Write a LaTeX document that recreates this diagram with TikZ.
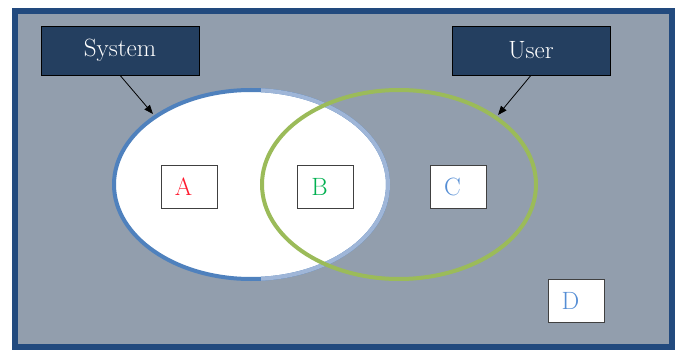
\documentclass[tikz,border=0pt]{standalone}
\usetikzlibrary{shapes.geometric,arrows.meta}
\definecolor{framecol}{HTML}{224A7E}
\definecolor{bgcol}{HTML}{929EAD}
\definecolor{navy}{HTML}{243F60}
\definecolor{sysblue}{HTML}{4F81BD}
\definecolor{syslight}{HTML}{9FB6D8}
\definecolor{usrgreen}{HTML}{9BBB59}
\definecolor{tred}{HTML}{FF1A2E}
\definecolor{tgreen}{HTML}{00B050}
\definecolor{tblue}{HTML}{558ED5}
\tikzset{
  title/.style={draw=black, line width=0.6pt, fill=navy, text=white, minimum width=158pt, minimum height=49pt, inner sep=0pt, font=\fontsize{25}{28}\selectfont},
  setell/.style={ellipse, line width=4pt, minimum width=274pt, minimum height=189pt, inner sep=0pt},
  lbox/.style={draw=black!75, line width=0.6pt, fill=white, minimum width=56pt, minimum height=43pt, inner sep=0pt, font=\fontsize{25}{28}\selectfont},
  pointer/.style={-{Triangle[length=9pt,width=7pt]}, line width=0.8pt, black}
}
\begin{document}
\begin{tikzpicture}[x=1pt,y=-1pt]
\useasboundingbox[fill=white] (0,0) rectangle (680,350);
\node[draw=framecol, fill=bgcol, line width=6pt, minimum width=657pt, minimum height=336pt, inner sep=0pt] (frame) at (343.5,179) {};
% System set
\node[setell, draw=sysblue, fill=white] (sys) at (251,184.5) {};
\begin{scope}
  \clip (261,0) rectangle (400,350);
  \node[setell, draw=syslight] (sysr) at (251,184.5) {};
\end{scope}
% User set
\node[setell, draw=usrgreen] (usr) at (399,184.5) {};
% titles
\node[title] (systitle) at (120,50.5) {System};
\node[title] (usrtitle) at (531,50.5) {User};
\coordinate (systip) at (153,114);
\coordinate (usrtip) at (498,115);
\draw[pointer] (systitle.south) -- (systip);
\draw[pointer] (usrtitle.south) -- (usrtip);
% boxes
\node[lbox, text=tred] (a) at (189,186.5) {\hspace*{-11pt}A};
\node[lbox, text=tgreen] (b) at (325,186.5) {\hspace*{-11pt}B};
\node[lbox, text=tblue] (c) at (458,186.5) {\hspace*{-11pt}C};
\node[lbox, text=tblue] (d) at (576,300.5) {\hspace*{-11pt}D};
\end{tikzpicture}
\end{document}
